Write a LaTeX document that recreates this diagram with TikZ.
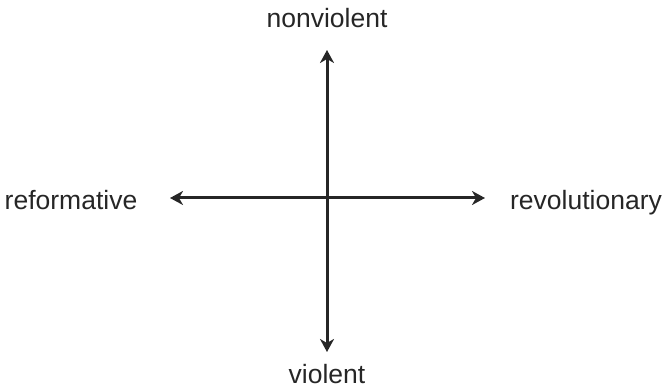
\documentclass[tikz,border=0pt]{standalone}
\usepackage{fontspec}
\setmainfont{Liberation Sans}
\usetikzlibrary{arrows.meta}
\begin{document}
\begin{tikzpicture}[x=1pt,y=1pt,
  tip/.tip={Stealth[length=13pt,width=14pt,inset=4pt]},
  axis/.style={line width=3pt,color=black!85,tip-tip},
  lbl/.style={font=\fontsize{26.5}{30}\selectfont,text=black!85,inner sep=0pt,anchor=base}]
\useasboundingbox (0,0) rectangle (663,390);
\coordinate (top) at (327,340);
\coordinate (bot) at (327,38);
\coordinate (lft) at (170,192);
\coordinate (rgt) at (485,192);
\draw[axis] (bot) -- (top);
\draw[axis] (lft) -- (rgt);
\node[lbl] (nv) at (327,362) {nonviolent};
\node[lbl] (v) at (327,6) {violent};
\node[lbl] (ref) at (71,180) {reformative};
\node[lbl] (rev) at (586,180) {revolutionary};
\end{tikzpicture}
\end{document}
